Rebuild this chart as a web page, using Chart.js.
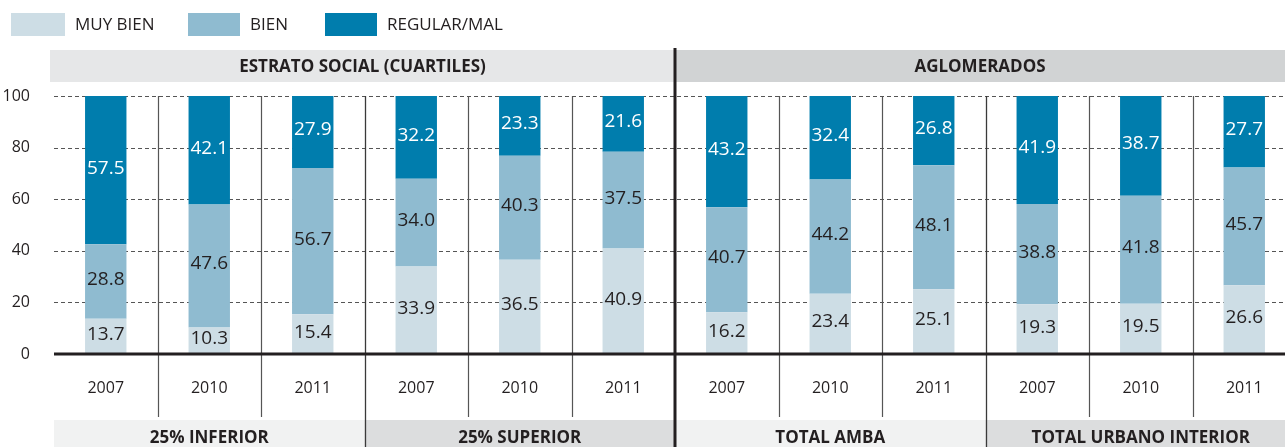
<!DOCTYPE html>
<html lang="es">
<head>
<meta charset="utf-8">
<title>Estado de salud percibido</title>
<script src="https://cdn.jsdelivr.net/npm/chart.js@4.4.1/dist/chart.umd.min.js"></script>
<style>
    html, body { margin: 0; padding: 0; background: #fff; overflow: hidden; }
    #wrap { position: relative; width: 1296px; height: 447px; }
</style>
</head>
<body>
<div id="wrap"><canvas id="grafico"></canvas></div>
<script>
const anios = ['2007', '2010', '2011', '2007', '2010', '2011', '2007', '2010', '2011', '2007', '2010', '2011'];
const muyBien = [13.7, 10.3, 15.4, 33.9, 36.5, 40.9, 16.2, 23.4, 25.1, 19.3, 19.5, 26.6];
const bien = [28.8, 47.6, 56.7, 34.0, 40.3, 37.5, 40.7, 44.2, 48.1, 38.8, 41.8, 45.7];
const regularMal = [57.5, 42.1, 27.9, 32.2, 23.3, 21.6, 43.2, 32.4, 26.8, 41.9, 38.7, 27.7];
const gruposArriba = ['ESTRATO SOCIAL (CUARTILES)', 'AGLOMERADOS'];
const gruposAbajo = ['25% INFERIOR', '25% SUPERIOR', 'TOTAL AMBA', 'TOTAL URBANO INTERIOR'];
const ticksY = [0, 20, 40, 60, 80, 100];

const TEXTO = '#231f20';
const FUENTE = '"Open Sans", sans-serif';
const ANCHO_VISIBLE = 1285;

// bandas, grilla punteada y separadores entre años
const marco = {
    id: 'marco',
    beforeDatasetsDraw(chart) {
        const {ctx, chartArea: a, scales: {x, y}} = chart;
        const borde = i => (x.getPixelForValue(i - 1) + x.getPixelForValue(i)) / 2;
        const medio = borde(6);
        ctx.save();

        // encabezados
        ctx.fillStyle = '#e6e7e8';
        ctx.fillRect(a.left - 4, 50, medio - a.left + 4, 32);
        ctx.fillStyle = '#d1d3d4';
        ctx.fillRect(medio, 50, chart.width - medio, 32);

        // pie
        const cortes = [a.left, borde(3), medio, borde(9), a.right];
        const tonos = ['#f1f2f2', '#dcddde', '#f1f2f2', '#dcddde'];
        tonos.forEach((c, k) => {
            ctx.fillStyle = c;
            ctx.fillRect(cortes[k], 420, cortes[k + 1] - cortes[k], 30);
        });

        ctx.fillStyle = TEXTO;
        ctx.font = `bold 17px ${FUENTE}`;
        ctx.textAlign = 'center';
        ctx.textBaseline = 'middle';
        ctx.fillText(gruposArriba[0], (a.left - 4 + medio) / 2, 67);
        ctx.fillText(gruposArriba[1], (medio + ANCHO_VISIBLE) / 2, 67);
        gruposAbajo.forEach((t, k) => {
            ctx.fillText(t, (cortes[k] + cortes[k + 1]) / 2, 438);
        });

        // grilla horizontal
        ctx.strokeStyle = '#555';
        ctx.lineWidth = 1;
        ctx.setLineDash([4, 3]);
        y.ticks.forEach(t => {
            if (t.value === 0) return;
            const py = Math.round(y.getPixelForValue(t.value)) + 0.5;
            ctx.beginPath();
            ctx.moveTo(a.left, py);
            ctx.lineTo(chart.width, py);
            ctx.stroke();
        });
        ctx.setLineDash([]);

        // separadores
        const y100 = y.getPixelForValue(100);
        for (let i = 1; i < anios.length; i++) {
            if (i === 6) continue;
            const px = Math.round(borde(i)) + 0.5;
            ctx.beginPath();
            if (i === 3 || i === 9) {
                ctx.strokeStyle = '#3a3a3a';
                ctx.lineWidth = 1.3;
                ctx.moveTo(px, y100);
                ctx.lineTo(px, chart.height);
            } else {
                ctx.strokeStyle = '#555';
                ctx.lineWidth = 1.2;
                ctx.moveTo(px, y100);
                ctx.lineTo(px, 417);
            }
            ctx.stroke();
        }
        ctx.restore();
    },
    afterDatasetsDraw(chart) {
        const {ctx, chartArea: a, scales: {x, y}} = chart;
        ctx.save();

        // valores dentro de cada tramo
        ctx.font = `19px ${FUENTE}`;
        ctx.textAlign = 'center';
        ctx.textBaseline = 'middle';
        chart.data.datasets.forEach((ds, d) => {
            ctx.fillStyle = d === 2 ? '#ffffff' : TEXTO;
            chart.getDatasetMeta(d).data.forEach((bar, i) => {
                const p = bar.getProps(['x', 'y', 'base'], true);
                ctx.fillText(ds.data[i].toFixed(1), p.x, (p.y + p.base) / 2 - 2);
            });
        });

        // eje en cero
        const y0 = y.getPixelForValue(0);
        ctx.strokeStyle = TEXTO;
        ctx.lineWidth = 3;
        ctx.beginPath();
        ctx.moveTo(a.left, y0);
        ctx.lineTo(chart.width, y0);
        ctx.stroke();

        // división entre estrato y aglomerados
        const medio = (x.getPixelForValue(5) + x.getPixelForValue(6)) / 2;
        ctx.beginPath();
        ctx.moveTo(medio, 48);
        ctx.lineTo(medio, chart.height);
        ctx.stroke();
        ctx.restore();
    },
    afterDraw(chart) {
        // leyenda
        const {ctx} = chart;
        const cajas = [{x: 11, w: 54}, {x: 188, w: 52}, {x: 325, w: 52}];
        ctx.save();
        ctx.font = `17px ${FUENTE}`;
        ctx.textBaseline = 'middle';
        chart.data.datasets.forEach((ds, d) => {
            const c = cajas[d];
            ctx.fillStyle = ds.backgroundColor;
            ctx.fillRect(c.x, 13, c.w, 23);
            ctx.fillStyle = TEXTO;
            ctx.fillText(ds.label, c.x + c.w + 10, 25);
        });
        ctx.restore();
    }
};

new Chart(document.getElementById('grafico'), {
    type: 'bar',
    data: {
        labels: anios,
        datasets: [
            {label: 'MUY BIEN', data: muyBien, backgroundColor: '#cddde5'},
            {label: 'BIEN', data: bien, backgroundColor: '#8fbbd0'},
            {label: 'REGULAR/MAL', data: regularMal, backgroundColor: '#007dad'}
        ]
    },
    options: {
        responsive: true,
        maintainAspectRatio: false,
        animation: false,
        devicePixelRatio: 1,
        layout: {padding: {top: 96, right: 0, bottom: 0, left: 0}},
        datasets: {bar: {barPercentage: 0.4, categoryPercentage: 1, borderWidth: 0}},
        plugins: {legend: {display: false}, tooltip: {enabled: false}},
        scales: {
            x: {
                stacked: true,
                grid: {display: false},
                border: {display: false},
                ticks: {color: TEXTO, font: {family: FUENTE, size: 16}, padding: 17, maxRotation: 0, autoSkip: false},
                afterFit: s => { s.height = 93; }
            },
            y: {
                stacked: true,
                min: 0,
                max: 100,
                grid: {display: false},
                border: {display: false},
                afterBuildTicks: s => { s.ticks = ticksY.map(v => ({value: v})); },
                ticks: {color: TEXTO, font: {family: FUENTE, size: 16}, padding: 16},
                afterFit: s => { s.width = 54; }
            }
        }
    },
    plugins: [marco]
});
</script>
</body>
</html>
